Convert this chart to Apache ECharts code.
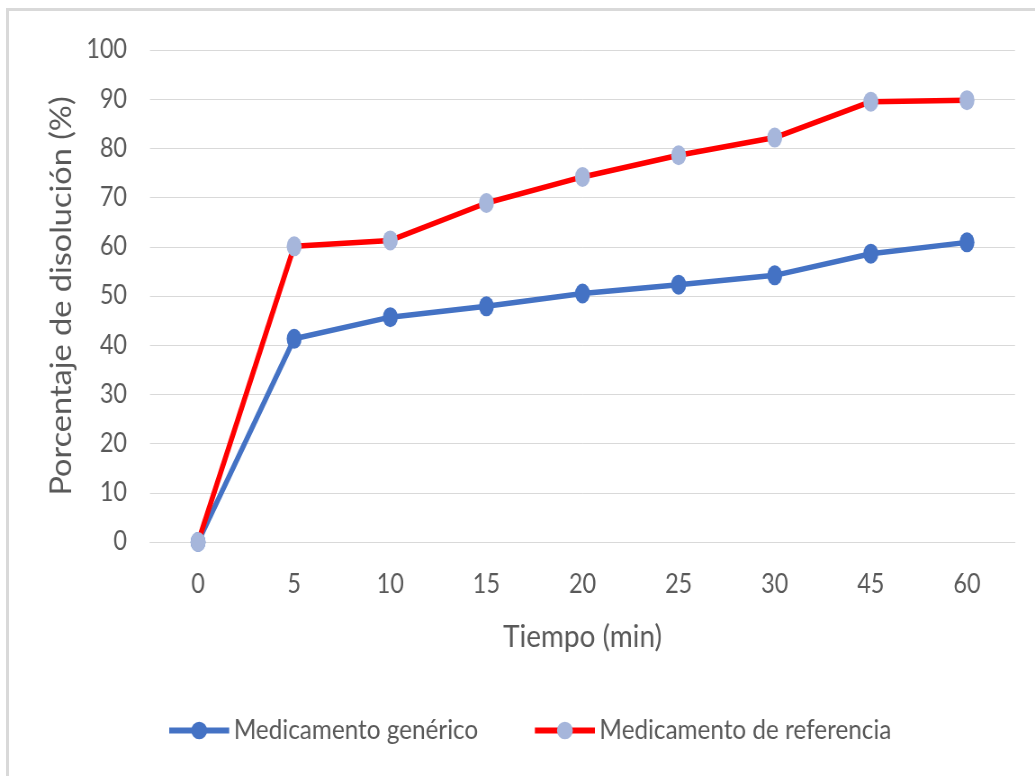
<!DOCTYPE html>
<html>
<head>
<meta charset="utf-8">
<script src="https://cdn.jsdelivr.net/npm/echarts@6/dist/echarts.min.js"></script>
<style>
  html, body { margin: 0; padding: 0; background: #fff; overflow: hidden; }
  #frame {
    position: absolute; left: 6px; top: 8px; right: -10px; bottom: -10px;
    border-top: 3px solid #d9d9d9; border-left: 3px solid #d9d9d9;
    box-sizing: border-box; pointer-events: none; z-index: 2;
  }
  #chart {
    position: absolute; left: 0; top: 0; height: 776px;
    transform-origin: 0 0;
  }
</style>
</head>
<body>
<div id="frame"></div>
<div id="chart"></div>
<script>
// Dissolution profile: time points (min) and dissolved percentage per product
const categories = ['0', '5', '10', '15', '20', '25', '30', '45', '60'];
const generico   = [0, 41.3, 45.7, 47.9, 50.5, 52.3, 54.2, 58.6, 60.9];
const referencia = [0, 60.1, 61.3, 68.9, 74.2, 78.6, 82.2, 89.5, 89.8];
const seriesNames = ['Medicamento genérico', 'Medicamento de referencia'];

// The chart is drawn a little wider and squeezed horizontally, giving
// condensed text.
const SX = 0.9;
const PAGE_W = 1035;
const W = PAGE_W / SX;
const el = document.getElementById('chart');
el.style.width = W + 'px';
el.style.transform = 'scaleX(' + SX + ')';

const FONT = 'Lato, "Open Sans", sans-serif';
const TXT = '#595959';

const chart = echarts.init(el, null, { renderer: 'canvas', width: W, height: 776 });
chart.setOption({
  animation: false,
  backgroundColor: '#ffffff',
  textStyle: { fontFamily: FONT },
  grid: {
    left: 150 / SX,
    right: (PAGE_W - 1015) / SX,
    top: 50,
    bottom: 234,
    containLabel: false
  },
  legend: {
    data: seriesNames,
    left: 162 / SX,
    top: 712,
    itemWidth: 60 / SX,
    itemHeight: 22,
    itemGap: 54 / SX,
    lineStyle: { width: 6 },
    textStyle: { color: TXT, fontSize: 27, fontFamily: FONT }
  },
  xAxis: {
    type: 'category',
    data: categories,
    boundaryGap: true,
    name: 'Tiempo (min)',
    nameLocation: 'middle',
    nameGap: 79,
    nameTextStyle: { color: TXT, fontSize: 31, fontFamily: FONT },
    axisLine: { show: true, lineStyle: { color: '#d9d9d9', width: 1 } },
    axisTick: { show: false },
    axisLabel: { color: TXT, fontSize: 26, margin: 30, fontFamily: FONT },
    splitLine: { show: false }
  },
  yAxis: {
    type: 'value',
    min: 0,
    max: 100,
    interval: 10,
    name: 'Porcentaje de disolución (%)',
    nameLocation: 'middle',
    nameGap: 82,
    nameTextStyle: { color: TXT, fontSize: 32.5, fontFamily: FONT },
    axisLine: { show: false },
    axisTick: { show: false },
    axisLabel: { color: TXT, fontSize: 26, margin: 25.5, fontFamily: FONT },
    splitLine: { show: true, lineStyle: { color: '#d9d9d9', width: 1 } }
  },
  series: [
    {
      name: seriesNames[0],
      type: 'line',
      data: generico,
      symbol: 'circle',
      symbolSize: [15 / SX, 20],
      lineStyle: { color: '#4472C4', width: 5.5 },
      itemStyle: { color: '#4472C4' },
      z: 2
    },
    {
      name: seriesNames[1],
      type: 'line',
      data: referencia,
      symbol: 'circle',
      symbolSize: [15 / SX, 20],
      lineStyle: { color: '#FF0000', width: 5.5 },
      itemStyle: { color: '#A6B6DB' },
      z: 3
    }
  ]
});
</script>
</body>
</html>
